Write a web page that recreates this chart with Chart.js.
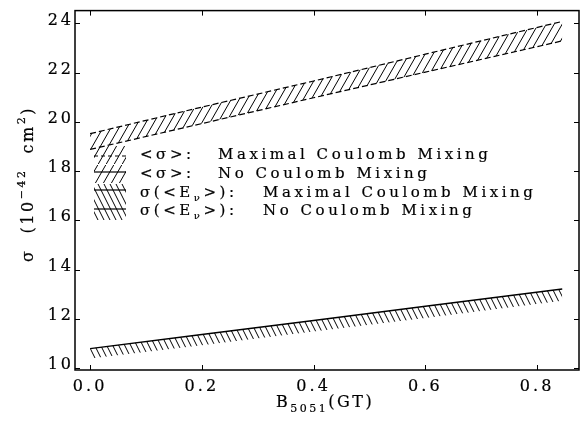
<!DOCTYPE html>
<html>
<head>
<meta charset="utf-8">
<script src="https://cdn.jsdelivr.net/npm/chart.js@4/dist/chart.umd.min.js"></script>
<style>
  html, body { margin: 0; padding: 0; background: #fff; }
  #wrap { width: 583px; height: 423px; }
</style>
</head>
<body>
<div id="wrap"><canvas id="c"></canvas></div>
<script>
// B(GT) positions
const bgt = [0, 0.2, 0.4, 0.6, 0.845];
// <sigma> band (dashed, "/" hatch)
const avgSigmaHi = [19.52, 20.6, 21.66, 22.75, 24.08];
const avgSigmaLo = [18.88, 19.93, 20.98, 22.02, 23.29];
// sigma(<E_nu>) band (solid top, "\" hatch)
const eSigmaHi = [10.79, 11.36, 11.93, 12.51, 13.21];
const eSigmaLo = [10.39, 10.93, 11.48, 12.03, 12.73];

const xTicks = [0, 0.2, 0.4, 0.6, 0.8];
const yTicks = [10, 12, 14, 16, 18, 20, 22, 24];

const legendRows = [
  { head: '<σ>:', text: 'Maximal Coulomb Mixing', hatch: 'slash', dash: [4, 3] },
  { head: '<σ>:', text: 'No Coulomb Mixing', hatch: 'slash', dash: [] },
  { head: 'σ(<E', sub: 'ν', tail: '>):', text: 'Maximal Coulomb Mixing', hatch: 'back', dash: [] },
  { head: 'σ(<E', sub: 'ν', tail: '>):', text: 'No Coulomb Mixing', hatch: 'back', dash: [] },
];

const FONT = "'DejaVu Serif', 'Liberation Serif', serif";
const INK = '#000';

function hatch(w, h, dir) {
  const c = document.createElement('canvas');
  c.width = w; c.height = h;
  const g = c.getContext('2d');
  g.strokeStyle = '#000';
  g.lineWidth = 1;
  g.beginPath();
  for (const dx of [-w, 0, w]) {
    if (dir > 0) { g.moveTo(dx, h); g.lineTo(dx + w, 0); }
    else { g.moveTo(dx, 0); g.lineTo(dx + w, h); }
  }
  g.stroke();
  return g.createPattern(c, 'repeat');
}
const slashPat = hatch(8, 14, 1);
const backPat = hatch(6, 12, -1);
const pats = { slash: slashPat, back: backPat };

const pts = ys => bgt.map((x, i) => ({ x, y: ys[i] }));

// draw a string made of pieces, some lowered or raised; a thin stroke thickens the glyphs
function drawPieces(ctx, x, y, pieces) {
  ctx.strokeStyle = INK;
  ctx.lineWidth = 0.2;
  for (const p of pieces) {
    ctx.font = p.size + 'px ' + FONT;
    ctx.fillText(p.t, x, y + (p.dy || 0));
    ctx.strokeText(p.t, x, y + (p.dy || 0));
    x += ctx.measureText(p.t).width;
  }
  return x;
}

const framePlugin = {
  id: 'frame',
  beforeDraw(chart) { chart.ctx.letterSpacing = '3px'; },
  afterDatasetsDraw(chart) {
    const { ctx, chartArea: a, scales } = chart;
    ctx.save();
    ctx.strokeStyle = INK;
    ctx.lineWidth = 1.5;
    ctx.strokeRect(a.left, a.top, a.right - a.left, a.bottom - a.top);
    ctx.lineWidth = 1;
    ctx.beginPath();
    const t = 5;
    xTicks.forEach(v => {
      const px = Math.round(scales.x.getPixelForValue(v)) + 0.5;
      ctx.moveTo(px, a.bottom); ctx.lineTo(px, a.bottom - t);
      ctx.moveTo(px, a.top); ctx.lineTo(px, a.top + t);
    });
    yTicks.forEach(v => {
      const py = Math.round(scales.y.getPixelForValue(v)) + 0.5;
      ctx.moveTo(a.left, py); ctx.lineTo(a.left + t, py);
      ctx.moveTo(a.right, py); ctx.lineTo(a.right - t, py);
    });
    ctx.stroke();
    ctx.restore();
  },
  afterDraw(chart) {
    const { ctx } = chart;
    ctx.save();
    ctx.fillStyle = INK;
    ctx.textBaseline = 'middle';

    // legend: spacing chosen so the long label spans about 270px
    ctx.letterSpacing = '0px';
    ctx.font = '15px ' + FONT;
    const ls = (270 - ctx.measureText('Maximal Coulomb Mixing').width) / 21;
    ctx.letterSpacing = ls.toFixed(2) + 'px';
    const rowY = [155, 174, 193, 211];
    const lineY = [156, 172, 190, 209];
    legendRows.forEach((r, i) => {
      const y = rowY[i];
      ctx.fillStyle = pats[r.hatch];
      ctx.fillRect(94, y - 9, 32, 18);
      ctx.strokeStyle = INK;
      ctx.lineWidth = 1.2;
      ctx.setLineDash(r.dash);
      ctx.beginPath();
      ctx.moveTo(94, lineY[i]); ctx.lineTo(126, lineY[i]);
      ctx.stroke();
      ctx.setLineDash([]);
      ctx.fillStyle = INK;
      const pieces = [{ t: r.head, size: 15 }];
      if (r.sub) {
        pieces.push({ t: r.sub, size: 10, dy: 5 });
        pieces.push({ t: r.tail, size: 15 });
      }
      drawPieces(ctx, 140, y, pieces);
      drawPieces(ctx, r.sub ? 263 : 218, y, [{ t: r.text, size: 15 }]);
    });

    // x title
    ctx.letterSpacing = '2.5px';
    ctx.textBaseline = 'alphabetic';
    drawPieces(ctx, 276, 407, [
      { t: 'B', size: 16 },
      { t: '5051', size: 11, dy: 5 },
      { t: '(GT)', size: 16 },
    ]);

    // y title, rotated
    ctx.translate(33, 262);
    ctx.rotate(-Math.PI / 2);
    drawPieces(ctx, 0, 0, [
      { t: 'σ  (10', size: 16 },
      { t: '−42', size: 11, dy: -8 },
      { t: '  cm', size: 16 },
      { t: '2', size: 11, dy: -8 },
      { t: ')', size: 16 },
    ]);
    ctx.restore();
  }
};

const tickFont = { family: FONT, size: 16 };

new Chart(document.getElementById('c'), {
  type: 'line',
  data: {
    datasets: [
      { data: pts(avgSigmaHi), borderColor: INK, borderWidth: 1.2, borderDash: [6, 3], fill: '+1', backgroundColor: slashPat },
      { data: pts(avgSigmaLo), borderColor: INK, borderWidth: 1.2, borderDash: [6, 3], fill: false },
      { data: pts(eSigmaHi), borderColor: INK, borderWidth: 1.4, fill: '+1', backgroundColor: backPat },
      { data: pts(eSigmaLo), borderWidth: 0, borderColor: 'rgba(0,0,0,0)', fill: false },
    ],
  },
  options: {
    responsive: true, maintainAspectRatio: false, animation: false,
    layout: { padding: { top: 2, right: 4, left: 0, bottom: 0 } },
    elements: { point: { radius: 0 }, line: { tension: 0 } },
    plugins: { legend: { display: false }, tooltip: { enabled: false } },
    scales: {
      x: {
        type: 'linear', min: -0.027, max: 0.875,
        grid: { display: false, drawTicks: false }, border: { display: false },
        ticks: { font: tickFont, color: INK, textStrokeColor: INK, textStrokeWidth: 0.2, padding: 7, maxRotation: 0, callback: v => v.toFixed(1) },
        afterBuildTicks: s => { s.ticks = xTicks.map(v => ({ value: v })); },
        afterFit: s => { s.height = 53; },
      },
      y: {
        min: 9.92, max: 24.52,
        grid: { display: false, drawTicks: false }, border: { display: false },
        ticks: { font: tickFont, color: INK, textStrokeColor: INK, textStrokeWidth: 0.2, padding: 1, labelOffset: -3, callback: v => String(v) },
        afterBuildTicks: s => { s.ticks = yTicks.map(v => ({ value: v })); },
        afterFit: s => { s.width = 75; },
      },
    },
  },
  plugins: [framePlugin],
});
</script>
</body>
</html>
